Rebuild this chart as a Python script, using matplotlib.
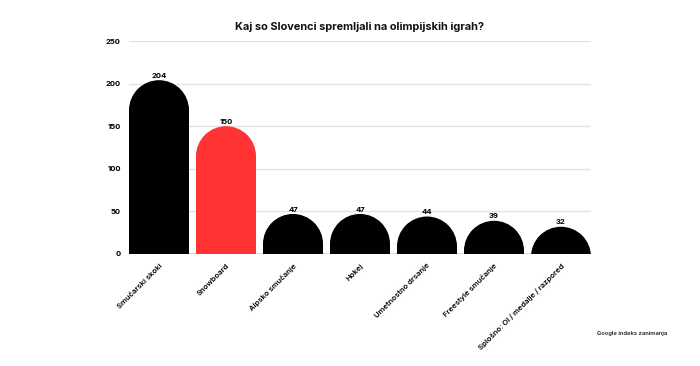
import matplotlib.pyplot as plt
from matplotlib.patches import Ellipse, Rectangle

# Podatki
kategorije = ["Smučarski skoki", "Snowboard", "Alpsko smučanje", "Hokej",
              "Umetnostno drsanje", "Freestyle smučanje", "Splošno: OI / medalje / razpored"]
vrednosti = [204, 150, 47, 47, 44, 39, 32]
barve = ["#000000", "#ff3333", "#000000", "#000000", "#000000", "#000000", "#000000"]
y_ticks = [0, 50, 100, 150, 200, 250]

plt.rcParams['font.family'] = ['Inter', 'DejaVu Sans']

W, H = 700, 366
fig = plt.figure(figsize=(W / 100, H / 100), dpi=100)
ax_l, ax_r, ax_b, ax_t = 129, 591, 112, 325
ax = fig.add_axes([ax_l / W, ax_b / H, (ax_r - ax_l) / W, (ax_t - ax_b) / H])

sirina = 60 / 67
ax.set_xlim(-sirina / 2, len(vrednosti) - 1 + sirina / 2)
ax.set_ylim(0, 250)

# polmer zaobljenja v podatkovnih enotah (30 px)
px_na_enoto = (ax_t - ax_b) / 250
ry = 30 / px_na_enoto
rx = sirina / 2

for i, (v, c) in enumerate(zip(vrednosti, barve)):
    center = v - ry
    if center > 0:
        ax.add_patch(Rectangle((i - rx, 0), sirina, center, facecolor=c, edgecolor='none', zorder=3))
    ax.add_patch(Ellipse((i, center), 2 * rx, 2 * ry, facecolor=c, edgecolor='none', zorder=3))
    ax.text(i, v + 1.5, str(v), ha='center', va='bottom', fontsize=5.5, fontweight='bold', zorder=4)

ax.set_yticks(y_ticks)
ax.set_yticklabels([str(t) for t in y_ticks], fontsize=5.5, fontweight='bold')
ax.set_xticks(range(len(kategorije)))
ax.set_xticklabels(kategorije, rotation=45, ha='right', rotation_mode='anchor',
                   fontsize=5.5, fontweight='semibold')
ax.tick_params(axis='both', length=0)
ax.tick_params(axis='y', pad=6)
ax.tick_params(axis='x', pad=6)

ax.grid(axis='y', color='#e3e3e3', linewidth=1, zorder=0)
for s in ax.spines.values():
    s.set_visible(False)
ax.axhline(0, color='#dddddd', linewidth=1.5, zorder=1)

fig.text(360 / W, 1 - 27 / H, "Kaj so Slovenci spremljali na olimpijskih igrah?",
         ha='center', va='center', fontsize=7.9, fontweight='bold', color='#111111')
fig.text(667 / W, 1 - 333 / H, "Google indeks zanimanja", ha='right', va='center',
         fontsize=4.2, fontweight='semibold', color='#222222')

fig.savefig("out.png", dpi=100)
